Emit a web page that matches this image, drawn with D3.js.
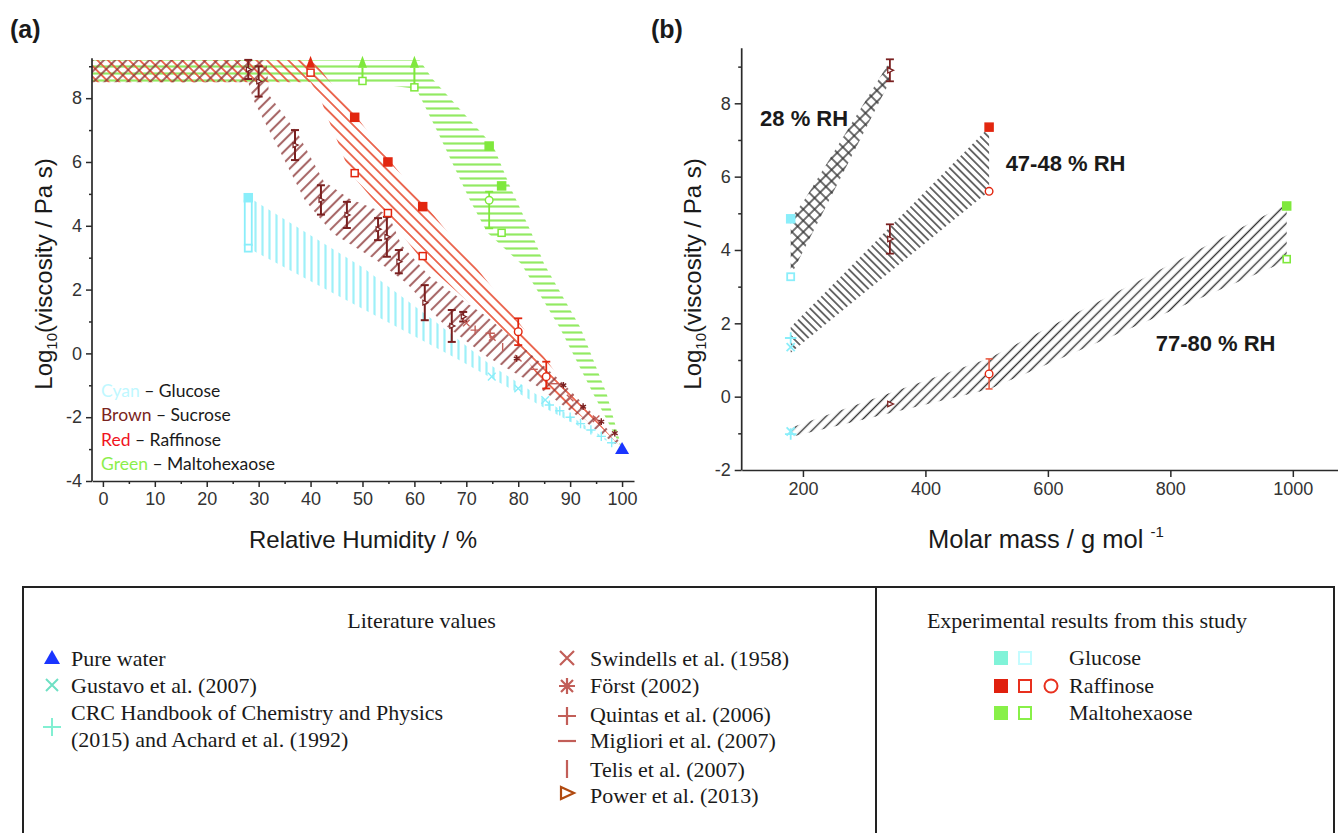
<!DOCTYPE html>
<html>
<head>
<meta charset="utf-8">
<script src="https://cdn.jsdelivr.net/npm/d3@7"></script>
<style>
  body { margin: 0; background: #fff; }
  svg { display: block; }
</style>
</head>
<body>
<svg id="fig" width="1338" height="833"></svg>
<script>
// ---------------- Panel (a): log10 viscosity vs relative humidity ----------------
const rhTicks = [0, 10, 20, 30, 40, 50, 60, 70, 80, 90, 100];
const rhMinorTicks = [5, 15, 25, 35, 45, 55, 65, 75, 85, 95];
const logTicksA = [-4, -2, 0, 2, 4, 6, 8];
const logMinorA = [-3, -1, 1, 3, 5, 7, 9];

// band outlines [RH %, log10(eta / Pa s)]
const glucoseUpper = [[28, 4.9], [50, 2.7], [64, 1.0], [75, -0.4], [100, -3]];
const glucoseLower = [[28, 3.3], [50, 1.4], [68, -0.15], [85, -1.7], [100, -3]];

const sucroseUpper = [[-2.1, 9.2], [31.5, 9.2], [32, 8.1], [37.5, 6.9], [42.5, 5.4], [47.5, 4.85],
  [55, 4.35], [57.5, 3.4], [63, 2.4], [69, 1.7], [74, 1.15], [81.6, 0.1], [88.7, -0.94], [100, -2.85]];
const sucroseLower = [[-2.1, 8.5], [28, 8.5], [29, 7.94], [34, 6.37], [38.9, 4.8], [44.3, 3.76],
  [52.7, 2.92], [58.5, 2.2], [65.5, 0.94], [73.9, -0.1], [82.9, -0.94], [100, -3]];

const raffinoseUpper = [[-2.1, 9.2], [40.5, 9.2], [48.5, 7.5], [55, 6.1], [61.6, 4.75], [69.4, 3.2],
  [75.8, 1.9], [82.3, 0.5], [88.5, -0.9], [100, -3]];
const raffinoseLower = [[-2.1, 8.5], [40, 8.5], [41.8, 8.04], [43, 7.5], [45.3, 6.6], [46.6, 6.06],
  [48.5, 5.5], [55, 4.25], [61.6, 2.9], [80, 0.2], [85.4, -1.1], [100, -3]];

const maltoUpper = [[-2.1, 9.2], [61, 9.2], [63.5, 8.6], [75.2, 6.5], [78.5, 5.2], [82.5, 3.8],
  [85, 2.8], [92, 0.8], [97, -1.25], [100, -3]];
const maltoLower = [[-2.1, 8.5], [50, 8.5], [60, 8.3], [60.8, 8.15], [64.9, 6.8], [70.7, 4.8],
  [74, 3.8], [80.6, 2.8], [88, 0.8], [94.4, -1.25], [100, -3]];

// sucrose error bars (Power et al.) : RH, low, high
const sucroseRH   = [28, 30, 37, 42, 47, 53, 54.7, 57, 62, 67.2, 69.4];
const sucroseLow  = [8.6, 8.05, 6.06, 4.35, 3.93, 3.55, 3.03, 2.51, 1.04, 0.36, 1.0];
const sucroseHigh = [9.2, 9.0, 7.0, 5.27, 4.75, 4.24, 4.28, 3.24, 2.14, 1.36, 1.3];

// experimental points
const glucoseFilledA = [[28, 4.88]];
const glucoseOpenA = [[28, 3.3]];
const raffFilledA = [[48.5, 7.4], [54.9, 6.0], [61.6, 4.6]];
const raffOpenA = [[40, 8.8], [48.5, 5.65], [54.9, 4.4], [61.6, 3.05]];
const raffCircleA = [[80, 0.68, 0.26, 1.1], [85.4, -0.73, -1.1, -0.26]]; // RH, value, low, high
const raffArrowA = [40];
const maltoFilledA = [[74.4, 6.5], [76.8, 5.25]];
const maltoOpenA = [[50, 8.54], [60, 8.34], [76.8, 3.78]];
const maltoCircleA = [[74.4, 4.8, 3.92, 5.07]];
const maltoArrowA = [[50, 8.54], [60, 8.34]];

// literature values
const pureWater = [[100, -3.0]];
const gustavo = [[74.9, -0.73], [80, -1.1], [85.2, -1.46]];
const crc = [[86, -1.62], [88, -1.8], [90, -2.0], [92, -2.2], [94, -2.4], [96, -2.6], [98, -2.8]];
const swindells = [[70, 0.95], [75, 0.5], [80, -0.15], [85, -0.8], [90, -1.4], [95, -2.05]];
const forst = [[79.7, -0.16], [88.7, -1.0], [92.5, -1.67], [96, -2.14], [98.6, -2.5]];
const quintas = [[71.7, 0.73], [74.6, 0.63]];
const migliori = [[83, -0.5], [87, -0.95]];
const telis = [[77, 0.2]];

// ---------------- Panel (b): log10 viscosity vs molar mass ----------------
const massTicks = [200, 400, 600, 800, 1000];
const logTicksB = [-2, 0, 2, 4, 6, 8];
const logMinorB = [-1, 1, 3, 5, 7, 9];

const band28 = [[180, 3.3], [180, 4.85], [200, 5.3], [342, 9.15], [342, 8.6]];
const band47 = [[180, 1.2], [180, 1.9], [504, 7.35], [504, 5.6]];
const band77 = [[180, -1.1], [180, -0.85], [504, 1.05], [990, 5.25], [990, 3.7], [504, 0.2]];

const glucoseFilledB = [[180, 4.85]];
const glucoseOpenB = [[180, 3.27]];
const glucoseTimesB = [[180, 1.35], [180, -0.95]];
const glucosePlusB = [[180, 1.6], [180, -1.02]];
const sucroseB = [[342, 8.9, 8.6, 9.2], [342, 4.3, 3.9, 4.7], [342, -0.2, -0.2, -0.2]];
const raffFilledB = [[504, 7.35]];
const raffCircleB = [[504, 5.6, 5.6, 5.6], [504, 0.62, 0.21, 1.03]];
const maltoFilledB = [[990, 5.2]];
const maltoOpenB = [[990, 3.75]];

const rhLabels = [
  { text: "28 % RH", m: 130, v: 7.39 },
  { text: "47-48 % RH", m: 531, v: 6.16 },
  { text: "77-80 % RH", m: 776, v: 1.25 }
];

// ---------------- legend content ----------------
const sugarKey = [
  { word: "Cyan", color: "#bff8ff", name: "Glucose" },
  { word: "Brown", color: "#7a2420", name: "Sucrose" },
  { word: "Red", color: "#f0141e", name: "Raffinose" },
  { word: "Green", color: "#8cee4c", name: "Maltohexaose" }
];
const litLeft = [
  { sym: "water", lines: ["Pure water"] },
  { sym: "gustavo", lines: ["Gustavo et al. (2007)"] },
  { sym: "crc", lines: ["CRC Handbook of Chemistry and Physics", "(2015) and Achard et al. (1992)"] }
];
const litRight = [
  { sym: "times", text: "Swindells et al. (1958)" },
  { sym: "asterisk", text: "Först (2002)" },
  { sym: "plus", text: "Quintas et al. (2006)" },
  { sym: "dash", text: "Migliori et al. (2007)" },
  { sym: "bar", text: "Telis et al. (2007)" },
  { sym: "tri", text: "Power et al. (2013)" }
];
const expRows = [
  { name: "Glucose", fill: "#80f3d8", open: "#c4fcff", circle: null },
  { name: "Raffinose", fill: "#e0200e", open: "#e8301e", circle: "#e8301e" },
  { name: "Maltohexaose", fill: "#88f048", open: "#88f048", circle: null }
];

// ---------------- colours ----------------
const C = {
  cyan: "#9ef0f8", cyanMark: "#8aeefa", brown: "#8b3535", brownBar: "#7a2020",
  red: "#e8553c", redMark: "#e2260f", green: "#92ea62", greenMark: "#7fe83c",
  lit: "#c25e58", power: "#b04a10", water: "#1a35ff", gust: "#6fe0c4", crc: "#82efd2",
  axis: "#2a2a2a", hatchB: "#333"
};

const svg = d3.select("#fig");
const defs = svg.append("defs");

function hatch(id, spacing, angle, color, width, opacity, cross) {
  const p = defs.append("pattern").attr("id", id)
    .attr("patternUnits", "userSpaceOnUse")
    .attr("width", spacing).attr("height", spacing)
    .attr("patternTransform", `rotate(${angle})`);
  p.append("line").attr("x1", -1).attr("x2", spacing + 1)
    .attr("y1", spacing / 2).attr("y2", spacing / 2)
    .attr("stroke", color).attr("stroke-width", width).attr("stroke-opacity", opacity);
  if (cross) {
    p.append("line").attr("y1", -1).attr("y2", spacing + 1)
      .attr("x1", spacing / 2).attr("x2", spacing / 2)
      .attr("stroke", color).attr("stroke-width", width).attr("stroke-opacity", opacity);
  }
}
hatch("hCyan", 7, 90, C.cyan, 2.2, 1, false);
hatch("hBrown", 8, -45, C.brown, 2.1, 0.75, false);
hatch("hRed", 7.5, 45, C.red, 1.8, 0.95, false);
hatch("hGreen", 7, 0, C.green, 2.2, 1, false);
hatch("hCross", 8, 45, C.hatchB, 1.4, 1, true);
hatch("hBack", 5.5, 45, C.hatchB, 1.4, 1, false);
hatch("hFwd", 7, -45, C.hatchB, 1.4, 1, false);

const FONT = "'Liberation Sans', Arial, sans-serif";
const SERIF = "'Liberation Serif', 'Times New Roman', serif";
const plain = d => String(d);

function styleAxis(g) {
  g.selectAll("path.domain").attr("stroke", C.axis).attr("stroke-width", 1.7);
  g.selectAll(".tick line").attr("stroke", C.axis).attr("stroke-width", 1.5);
  g.selectAll(".tick text").attr("fill", "#333").style("font-family", FONT).style("font-size", "18px");
}

// ===== Panel (a) =====
const xA = d3.scaleLinear().domain([-2.1, 102.3]).range([92, 634]);
const yA = d3.scaleLinear().domain([-4, 9.25]).range([481, 58.3]);
const gA = svg.append("g");

const lineA = d3.line().x(d => xA(d[0])).y(d => yA(d[1]));
function band(g, upper, lower, fill, line) {
  g.append("path").attr("d", line(upper.concat(lower.slice().reverse())) + "Z")
    .attr("fill", `url(#${fill})`).attr("stroke", "none");
}
band(gA, maltoUpper, maltoLower, "hGreen", lineA);
band(gA, raffinoseUpper, raffinoseLower, "hRed", lineA);
band(gA, sucroseUpper, sucroseLower, "hBrown", lineA);
band(gA, glucoseUpper, glucoseLower, "hCyan", lineA);

// axes (a)
const axYA = gA.append("g").attr("transform", `translate(${xA.range()[0]},0)`)
  .call(d3.axisLeft(yA).tickValues(logTicksA).tickFormat(plain).tickSize(6).tickSizeOuter(0).tickPadding(4));
axYA.select("path.domain").attr("d", `M0,${yA.range()[0]}V${yA.range()[1]}`);
styleAxis(axYA);
const axYAm = gA.append("g").attr("transform", `translate(${xA.range()[0]},0)`)
  .call(d3.axisLeft(yA).tickValues(logMinorA).tickSize(3).tickFormat(""));
axYAm.select("path.domain").remove();
styleAxis(axYAm);
const axXA = gA.append("g").attr("transform", `translate(0,${yA.range()[0]})`)
  .call(d3.axisBottom(xA).tickValues(rhTicks).tickFormat(plain).tickSize(6).tickSizeOuter(0).tickPadding(5));
styleAxis(axXA);
const axXAm = gA.append("g").attr("transform", `translate(0,${yA.range()[0]})`)
  .call(d3.axisBottom(xA).tickValues(rhMinorTicks).tickSize(3).tickFormat(""));
axXAm.select("path.domain").remove();
styleAxis(axXAm);

// marker helpers
function sq(g, data, x, y, size, color, filled, sw) {
  g.selectAll(null).data(data).join("rect")
    .attr("x", d => x(d[0]) - size / 2).attr("y", d => y(d[1]) - size / 2)
    .attr("width", size).attr("height", size)
    .attr("fill", filled ? color : "#fff").attr("stroke", color).attr("stroke-width", sw || 1.5);
}
function errBar(g, xp, lo, hi, color, cap, sw) {
  g.append("line").attr("x1", xp).attr("x2", xp).attr("y1", lo).attr("y2", hi)
    .attr("stroke", color).attr("stroke-width", sw);
  [lo, hi].forEach(yy => g.append("line").attr("x1", xp - cap / 2).attr("x2", xp + cap / 2)
    .attr("y1", yy).attr("y2", yy).attr("stroke", color).attr("stroke-width", sw));
}
function triR(g, cx, cy, s, color, sw) {
  g.append("path").attr("d", `M${cx - s * 0.6},${cy - s * 0.75}L${cx + s},${cy}L${cx - s * 0.6},${cy + s * 0.75}Z`)
    .attr("fill", "#fff").attr("stroke", color).attr("stroke-width", sw);
}
function symbolAt(g, data, x, y, type, size, color, sw) {
  g.selectAll(null).data(data).join("path")
    .attr("transform", d => `translate(${x(d[0])},${y(d[1])})`)
    .attr("d", d3.symbol().type(type).size(size))
    .attr("fill", "none").attr("stroke", color).attr("stroke-width", sw);
}

// glucose (a)
glucoseFilledA.forEach((d, i) => {
  const o = glucoseOpenA[i];
  gA.append("rect").attr("x", xA(d[0]) - 3.5).attr("y", yA(d[1]) + 3)
    .attr("width", 7).attr("height", yA(o[1]) - yA(d[1]) - 6)
    .attr("fill", "#fff").attr("stroke", C.cyanMark).attr("stroke-width", 1.8);
});
sq(gA, glucoseFilledA, xA, yA, 8, C.cyanMark, true);
sq(gA, glucoseOpenA, xA, yA, 7, C.cyanMark, false, 1.8);

// sucrose error bars with Power triangles
sucroseRH.forEach((rh, i) => {
  const xp = xA(rh);
  errBar(gA, xp, yA(sucroseLow[i]), yA(sucroseHigh[i]), C.brownBar, 8, 2);
  triR(gA, xp, yA((sucroseLow[i] + sucroseHigh[i]) / 2), 3.2, C.brownBar, 1.2);
});

// sucrose literature points
symbolAt(gA, swindells, xA, yA, d3.symbolTimes, 30, C.lit, 1.4);
symbolAt(gA, forst, xA, yA, d3.symbolAsterisk, 30, C.brownBar, 1.4);
symbolAt(gA, quintas, xA, yA, d3.symbolPlus, 30, C.lit, 1.4);
gA.selectAll(null).data(migliori).join("line")
  .attr("x1", d => xA(d[0]) - 4).attr("x2", d => xA(d[0]) + 4)
  .attr("y1", d => yA(d[1])).attr("y2", d => yA(d[1])).attr("stroke", C.lit).attr("stroke-width", 1.4);
gA.selectAll(null).data(telis).join("line")
  .attr("x1", d => xA(d[0])).attr("x2", d => xA(d[0]))
  .attr("y1", d => yA(d[1]) - 4).attr("y2", d => yA(d[1]) + 4).attr("stroke", C.lit).attr("stroke-width", 1.4);

// glucose literature
symbolAt(gA, gustavo, xA, yA, d3.symbolTimes, 40, C.cyanMark, 1.4);
symbolAt(gA, crc, xA, yA, d3.symbolPlus, 30, C.cyanMark, 1.4);

// raffinose (a)
raffArrowA.forEach(rh => {
  const xp = xA(rh);
  gA.append("path").attr("d", `M${xp},${yA(9.33)}L${xp + 4.5},${yA(8.95)}L${xp - 4.5},${yA(8.95)}Z`)
    .attr("fill", C.redMark);
});
sq(gA, raffFilledA, xA, yA, 8, C.redMark, true);
sq(gA, raffOpenA, xA, yA, 7, C.redMark, false);
raffCircleA.forEach(d => {
  errBar(gA, xA(d[0]), yA(d[2]), yA(d[3]), C.redMark, 8, 1.8);
  gA.append("circle").attr("cx", xA(d[0])).attr("cy", yA(d[1])).attr("r", 3.8)
    .attr("fill", "#fff").attr("stroke", C.redMark).attr("stroke-width", 1.4);
});

// maltohexaose (a)
maltoArrowA.forEach(d => {
  const xp = xA(d[0]);
  gA.append("line").attr("x1", xp).attr("x2", xp).attr("y1", yA(d[1])).attr("y2", yA(8.95))
    .attr("stroke", C.greenMark).attr("stroke-width", 2);
  gA.append("path").attr("d", `M${xp},${yA(9.33)}L${xp + 4.5},${yA(8.95)}L${xp - 4.5},${yA(8.95)}Z`)
    .attr("fill", C.greenMark);
});
maltoCircleA.forEach(d => {
  errBar(gA, xA(d[0]), yA(d[2]), yA(d[3]), C.greenMark, 8, 1.8);
  gA.append("circle").attr("cx", xA(d[0])).attr("cy", yA(d[1])).attr("r", 3.8)
    .attr("fill", "#fff").attr("stroke", C.greenMark).attr("stroke-width", 1.4);
});
sq(gA, maltoFilledA, xA, yA, 8, C.greenMark, true);
sq(gA, maltoOpenA, xA, yA, 7, C.greenMark, false);

// pure water
gA.selectAll(null).data(pureWater).join("path")
  .attr("transform", d => `translate(${xA(d[0])},${yA(d[1])})`)
  .attr("d", "M0,-7L7,5L-7,5Z").attr("fill", C.water);

// sugar colour key
sugarKey.forEach((k, i) => {
  const t = gA.append("text").attr("x", 101).attr("y", 397 + i * 24.3)
    .style("font-family", "Lato, 'Open Sans', sans-serif").style("font-size", "17.5px");
  t.append("tspan").attr("fill", k.color).text(k.word);
  t.append("tspan").attr("fill", "#1a1a1a").text(" \u2013 " + k.name);
});

// titles (a)
svg.append("text").attr("x", 10).attr("y", 38).text("(a)")
  .style("font-family", FONT).style("font-size", "25px").style("font-weight", "bold").attr("fill", "#1a1a1a");
svg.append("text").attr("x", 363).attr("y", 548).attr("text-anchor", "middle").text("Relative Humidity / %")
  .style("font-family", FONT).style("font-size", "24px").attr("fill", "#1a1a1a");

function yTitle(xpos) {
  const t = svg.append("text").attr("transform", `translate(${xpos},274) rotate(-90)`)
    .attr("text-anchor", "middle").style("font-family", FONT).style("font-size", "24px").attr("fill", "#1a1a1a");
  t.append("tspan").text("Log");
  t.append("tspan").attr("dy", 5).style("font-size", "15px").text("10");
  t.append("tspan").attr("dy", -5).text("(viscosity / Pa s)");
}
yTitle(52);

// ===== Panel (b) =====
const xB = d3.scaleLinear().domain([100, 1075.4]).range([741.7, 1339]);
const yB = d3.scaleLinear().domain([-2, 9.5]).range([470, 48.3]);
const gB = svg.append("g");
const lineB = d3.line().x(d => xB(d[0])).y(d => yB(d[1]));

[[band28, "hCross"], [band47, "hBack"], [band77, "hFwd"]].forEach(([pts, pat]) => {
  gB.append("path").attr("d", lineB(pts) + "Z").attr("fill", `url(#${pat})`);
});

const axYB = gB.append("g").attr("transform", `translate(${xB.range()[0]},0)`)
  .call(d3.axisLeft(yB).tickValues(logTicksB).tickFormat(plain).tickSize(7).tickSizeOuter(0).tickPadding(4));
axYB.select("path.domain").attr("d", `M0,${yB.range()[0]}V${yB.range()[1]}`);
styleAxis(axYB);
const axYBm = gB.append("g").attr("transform", `translate(${xB.range()[0]},0)`)
  .call(d3.axisLeft(yB).tickValues(logMinorB).tickSize(3.5).tickFormat(""));
axYBm.select("path.domain").remove();
styleAxis(axYBm);
const axXB = gB.append("g").attr("transform", `translate(0,${yB.range()[0]})`)
  .call(d3.axisBottom(xB).tickValues(massTicks).tickFormat(plain).tickSize(7).tickSizeOuter(0).tickPadding(5));
styleAxis(axXB);

// markers (b)
sq(gB, glucoseFilledB, xB, yB, 8, C.cyanMark, true);
sq(gB, glucoseOpenB, xB, yB, 7, C.cyanMark, false, 1.8);
symbolAt(gB, glucoseTimesB, xB, yB, d3.symbolTimes, 45, C.cyanMark, 1.8);
symbolAt(gB, glucosePlusB, xB, yB, d3.symbolPlus, 45, C.cyanMark, 1.8);
sucroseB.forEach(d => {
  if (d[3] > d[2]) errBar(gB, xB(d[0]), yB(d[2]), yB(d[3]), C.brownBar, 8, 1.8);
  triR(gB, xB(d[0]), yB(d[1]), 3.6, C.brownBar, 1.3);
});
sq(gB, raffFilledB, xB, yB, 8, C.redMark, true);
raffCircleB.forEach(d => {
  if (d[3] > d[2]) errBar(gB, xB(d[0]), yB(d[2]), yB(d[3]), C.red, 7, 1.5);
  gB.append("circle").attr("cx", xB(d[0])).attr("cy", yB(d[1])).attr("r", 3.8)
    .attr("fill", "#fff").attr("stroke", C.redMark).attr("stroke-width", 1.4);
});
sq(gB, maltoFilledB, xB, yB, 8, C.greenMark, true);
sq(gB, maltoOpenB, xB, yB, 7, C.greenMark, false, 1.6);

rhLabels.forEach(l => {
  gB.append("text").attr("x", xB(l.m)).attr("y", yB(l.v)).text(l.text)
    .style("font-family", FONT).style("font-size", "22px").style("font-weight", "bold").attr("fill", "#1a1a1a");
});

svg.append("text").attr("x", 651).attr("y", 38).text("(b)")
  .style("font-family", FONT).style("font-size", "25px").style("font-weight", "bold").attr("fill", "#1a1a1a");
yTitle(701);
const xtB = svg.append("text").attr("x", 928).attr("y", 548)
  .style("font-family", FONT).style("font-size", "25.5px").attr("fill", "#1a1a1a");
xtB.append("tspan").text("Molar mass / g mol");
xtB.append("tspan").attr("dx", 7).attr("dy", -11).style("font-size", "15px").text("-1");

// ===== Legend box =====
const lg = svg.append("g");
lg.append("rect").attr("x", 23).attr("y", 587).attr("width", 1311).attr("height", 270)
  .attr("fill", "none").attr("stroke", "#222").attr("stroke-width", 2);
lg.append("line").attr("x1", 876).attr("x2", 876).attr("y1", 587).attr("y2", 833)
  .attr("stroke", "#222").attr("stroke-width", 2);

function serif(x, y, txt, anchor) {
  return lg.append("text").attr("x", x).attr("y", y).attr("text-anchor", anchor || "start")
    .style("font-family", SERIF).style("font-size", "22px").attr("fill", "#1a1a1a").text(txt);
}
serif(421.5, 628, "Literature values", "middle");
serif(1087, 628, "Experimental results from this study", "middle");

const leftRowY = [658, 685, 727];
litLeft.forEach((r, i) => {
  const cy = leftRowY[i];
  if (r.sym === "water") lg.append("path").attr("transform", `translate(52,${cy})`)
    .attr("d", "M0,-8L8,6L-8,6Z").attr("fill", C.water);
  if (r.sym === "gustavo") lg.append("path").attr("transform", `translate(52,${cy})`)
    .attr("d", "M-6,-6L6,6M-6,6L6,-6").attr("stroke", C.gust).attr("stroke-width", 2);
  if (r.sym === "crc") lg.append("path").attr("transform", `translate(52,${cy})`)
    .attr("d", "M-9,0H9M0,-9V9").attr("stroke", C.crc).attr("stroke-width", 2);
  r.lines.forEach((ln, j) => serif(71, (i === 2 ? 720 : cy + 8) + j * 27, ln));
});

const rightRowY = [658, 686, 716, 741, 769, 793];
const rightBase = [666, 693, 722, 748, 777, 803];
litRight.forEach((r, i) => {
  const cy = rightRowY[i];
  const s = lg.append("g").attr("transform", `translate(567,${cy})`);
  const col = r.sym === "tri" ? C.power : C.lit;
  if (r.sym === "times") s.append("path").attr("d", "M-7,-7L7,7M-7,7L7,-7");
  if (r.sym === "asterisk") s.append("path").attr("d", "M-8,0H8M0,-8V8M-6,-6L6,6M-6,6L6,-6");
  if (r.sym === "plus") s.append("path").attr("d", "M-9,0H9M0,-9V9");
  if (r.sym === "dash") s.append("path").attr("d", "M-9,0H9");
  if (r.sym === "bar") s.append("path").attr("d", "M0,-9V9");
  if (r.sym === "tri") s.append("path").attr("d", "M-6,-6L7,0L-6,6Z").attr("fill", "none");
  s.selectAll("path").attr("stroke", col).attr("stroke-width", 2.2).attr("fill", "none");
  serif(590, rightBase[i], r.text);
});

const expY = [658, 686, 713];
expRows.forEach((r, i) => {
  const cy = expY[i];
  lg.append("rect").attr("x", 994).attr("y", cy - 7).attr("width", 14).attr("height", 14).attr("fill", r.fill);
  lg.append("rect").attr("x", 1019).attr("y", cy - 6).attr("width", 12).attr("height", 12)
    .attr("fill", "none").attr("stroke", r.open).attr("stroke-width", 2);
  if (r.circle) lg.append("circle").attr("cx", 1051).attr("cy", cy).attr("r", 6.5)
    .attr("fill", "none").attr("stroke", r.circle).attr("stroke-width", 2);
  serif(1069, cy + 7, r.name);
});
</script>
</body>
</html>
